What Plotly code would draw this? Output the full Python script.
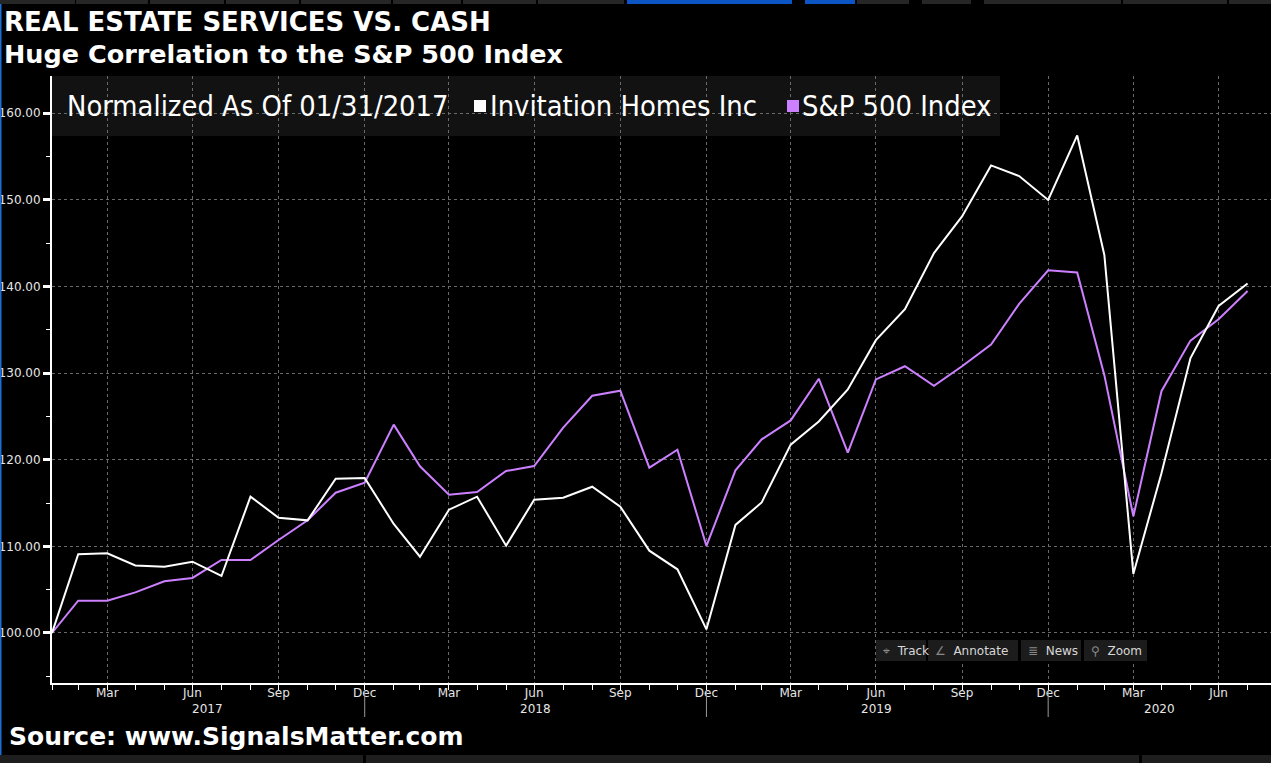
import plotly.graph_objects as go

# ---------------- data ----------------
dates = [
    "2017-01-31", "2017-02-28", "2017-03-31", "2017-04-30", "2017-05-31", "2017-06-30",
    "2017-07-31", "2017-08-31", "2017-09-30", "2017-10-31", "2017-11-30", "2017-12-31",
    "2018-01-31", "2018-02-28", "2018-03-31", "2018-04-30", "2018-05-31", "2018-06-30",
    "2018-07-31", "2018-08-31", "2018-09-30", "2018-10-31", "2018-11-30", "2018-12-31",
    "2019-01-31", "2019-02-28", "2019-03-31", "2019-04-30", "2019-05-31", "2019-06-30",
    "2019-07-31", "2019-08-31", "2019-09-30", "2019-10-31", "2019-11-30", "2019-12-31",
    "2020-01-31", "2020-02-29", "2020-03-31", "2020-04-30", "2020-05-31", "2020-06-30",
    "2020-07-31",
]
invitation_homes = [
    100.00, 109.08, 109.19, 107.80, 107.65, 108.23, 106.58, 115.73, 113.30, 113.00, 117.80, 117.88,
    112.58, 108.80, 114.23, 115.73, 110.08, 115.38, 115.61, 116.88, 114.58, 109.50, 107.35, 100.42,
    112.47, 115.06, 121.73, 124.40, 128.11, 133.79, 137.37, 143.83, 148.07, 153.95, 152.72, 149.96,
    157.41, 143.62, 106.83, 118.44, 131.73, 137.74, 140.33,
]
sp500 = [
    100.00, 103.73, 103.73, 104.69, 105.96, 106.35, 108.42, 108.42, 110.73, 113.00, 116.19, 117.34,
    124.04, 119.23, 115.96, 116.27, 118.69, 119.27, 123.69, 127.38, 127.96, 119.08, 121.15, 110.04,
    118.77, 122.35, 124.53, 129.34, 120.82, 129.26, 130.78, 128.52, 130.78, 133.29, 137.98, 141.85,
    141.60, 129.75, 113.46, 127.90, 133.74, 136.21, 139.47,
]
quarter_ticks = [d for d in dates if d[5:7] in ("03", "06", "09", "12")]
quarter_text = [{"03": "Mar", "06": "Jun", "09": "Sep", "12": "Dec"}[d[5:7]] for d in quarter_ticks]
year_labels = ["2017", "2018", "2019", "2020"]
year_label_pos = ["2017-07-16", "2018-07-01", "2019-07-01", "2020-04-28"]
year_separators = ["2017-12-31", "2018-12-31", "2019-12-31"]
y_ticks = [100, 110, 120, 130, 140, 150, 160]

# ---------------- layout geometry (pixels) ----------------
W, H = 1271, 763
L, R, T, B = 52, 0, 76, 80
PW, PH = W - L - R, H - T - B


def px(x):
    return (x - L) / PW


def py(y):
    return (H - B - y) / PH


WHITE = "#ffffff"
PURPLE = "#cc80ff"
TXT = "#e6e6e6"
GRID = "#6a6a6a"
BOLD_FONT = "DejaVu Sans, sans-serif"
NARROW_FONT = "Liberation Sans Narrow, DejaVu Sans Condensed, Arial Narrow, sans-serif"
AX_FONT = "DejaVu Sans, sans-serif"

fig = go.Figure()
fig.add_trace(go.Scatter(x=dates, y=sp500, mode="lines", name="S&P 500 Index",
                         line=dict(color=PURPLE, width=2), showlegend=False))
fig.add_trace(go.Scatter(x=dates, y=invitation_homes, mode="lines", name="Invitation Homes Inc",
                         line=dict(color=WHITE, width=2), showlegend=False))

shapes = []
annotations = []

# legend box (drawn below grid)
shapes.append(dict(type="rect", xref="paper", yref="paper", x0=px(52), x1=px(1000),
                   y0=py(136), y1=py(76), fillcolor="#121212", line=dict(width=0), layer="below"))
annotations.append(dict(xref="paper", yref="paper", x=px(65), y=py(106), xanchor="left", yanchor="middle",
                        text="Normalized As Of 01/31/2017", showarrow=False,
                        font=dict(family=NARROW_FONT, size=28.8, color=WHITE)))
shapes.append(dict(type="rect", xref="paper", yref="paper", x0=px(474), x1=px(486),
                   y0=py(112), y1=py(100), fillcolor=WHITE, line=dict(width=0)))
annotations.append(dict(xref="paper", yref="paper", x=px(488), y=py(106), xanchor="left", yanchor="middle",
                        text="Invitation Homes Inc", showarrow=False,
                        font=dict(family=NARROW_FONT, size=28.8, color=WHITE)))
shapes.append(dict(type="rect", xref="paper", yref="paper", x0=px(787), x1=px(799),
                   y0=py(112), y1=py(100), fillcolor=PURPLE, line=dict(width=0)))
annotations.append(dict(xref="paper", yref="paper", x=px(800), y=py(106), xanchor="left", yanchor="middle",
                        text="S&P 500 Index", showarrow=False,
                        font=dict(family=NARROW_FONT, size=28.8, color=WHITE)))

# titles and source
annotations.append(dict(xref="paper", yref="paper", x=px(2), y=py(22), xanchor="left", yanchor="middle",
                        text="<b>REAL ESTATE SERVICES VS. CASH</b>", showarrow=False,
                        font=dict(family=BOLD_FONT, size=26, color=WHITE)))
annotations.append(dict(xref="paper", yref="paper", x=px(2), y=py(54), xanchor="left", yanchor="middle",
                        text="<b>Huge Correlation to the S&P 500 Index</b>", showarrow=False,
                        font=dict(family=BOLD_FONT, size=25.5, color=WHITE)))
annotations.append(dict(xref="paper", yref="paper", x=px(7), y=py(736), xanchor="left", yanchor="middle",
                        text="<b>Source: www.SignalsMatter.com</b>", showarrow=False,
                        font=dict(family=BOLD_FONT, size=25, color=WHITE)))

# year labels and separators
for lab, pos in zip(year_labels, year_label_pos):
    annotations.append(dict(xref="x", yref="paper", x=pos, y=py(709), xanchor="center", yanchor="middle",
                            text=lab, showarrow=False, font=dict(family=AX_FONT, size=12, color=TXT)))
for d in year_separators:
    shapes.append(dict(type="line", xref="x", yref="paper", x0=d, x1=d, y0=py(691), y1=py(717),
                       line=dict(color="#9a9a9a", width=1)))

# toolbar buttons
buttons = [("⌖", "Track", 876, 926), ("∠", "Annotate", 928, 1018),
           ("≣", "News", 1021, 1081), ("⚲", "Zoom", 1084, 1147)]
for icon, label, x0, x1 in buttons:
    shapes.append(dict(type="rect", xref="paper", yref="paper", x0=px(x0), x1=px(x1),
                       y0=py(661), y1=py(640), fillcolor="#1c1c1c", line=dict(width=0)))
    annotations.append(dict(xref="paper", yref="paper", x=px(x0 + 5), y=py(650.5), xanchor="left",
                            yanchor="middle", showarrow=False,
                            text=f"<span style='color:#8a8a8a'>{icon}</span>  {label}",
                            font=dict(family=AX_FONT, size=12, color="#d8d8d8")))

# top chrome strip
gray_segs = [(0, 75), (76, 148), (150, 224), (226, 299), (301, 391), (393, 461), (463, 536),
             (538, 624), (857, 909), (922, 971), (984, 1121), (1123, 1227), (1229, 1271)]
blue_segs = [(627, 792), (805, 855)]
for a, b in gray_segs:
    shapes.append(dict(type="rect", xref="paper", yref="paper", x0=px(a), x1=px(b),
                       y0=py(4), y1=py(0), fillcolor="#262626", line=dict(width=0)))
for a, b in blue_segs:
    shapes.append(dict(type="rect", xref="paper", yref="paper", x0=px(a), x1=px(b),
                       y0=py(4), y1=py(0), fillcolor="#0b56c4", line=dict(width=0)))
# bottom chrome strip
for a, b in [(0, 363), (366, 1139), (1142, 1271)]:
    shapes.append(dict(type="rect", xref="paper", yref="paper", x0=px(a), x1=px(b),
                       y0=py(763), y1=py(755), fillcolor="#1e1e1e", line=dict(width=0)))
# left blue edge
shapes.append(dict(type="rect", xref="paper", yref="paper", x0=px(0), x1=px(1.5),
                   y0=py(755), y1=py(4), fillcolor="#1a6fd8", line=dict(width=0)))

fig.update_layout(
    width=W, height=H,
    margin=dict(l=L, r=R, t=T, b=B, pad=0),
    paper_bgcolor="#000000", plot_bgcolor="#000000",
    showlegend=False,
    shapes=shapes, annotations=annotations,
    xaxis=dict(
        type="date", range=["2017-01-31", "2020-08-25"],
        tickmode="array", tickvals=quarter_ticks, ticktext=quarter_text,
        showgrid=True, gridcolor=GRID, griddash="3px,3px", gridwidth=1,
        showline=True, linecolor=WHITE, linewidth=2,
        ticks="outside", ticklen=5, tickcolor=WHITE, tickwidth=1,
        ticklabelstandoff=-7,
        minor=dict(tickmode="array", tickvals=dates, ticks="outside", ticklen=5,
                   tickcolor=WHITE, tickwidth=1, showgrid=False),
        tickfont=dict(family=AX_FONT, size=12, color=TXT),
        zeroline=False, fixedrange=True,
    ),
    yaxis=dict(
        range=[94.23, 164.27],
        tickmode="array", tickvals=y_ticks, ticktext=[f"{v:.2f}" for v in y_ticks],
        showgrid=True, gridcolor=GRID, griddash="3px,3px", gridwidth=1,
        showline=True, linecolor=WHITE, linewidth=2,
        ticks="outside", ticklen=7, tickwidth=3, tickcolor=WHITE,
        minor=dict(dtick=5, tick0=95, ticks="outside", ticklen=4, tickcolor=WHITE,
                   tickwidth=1, showgrid=False),
        tickfont=dict(family=AX_FONT, size=12, color=TXT),
        zeroline=False, fixedrange=True,
    ),
)

fig.write_html("out.html", config={"displayModeBar": False},
               post_script="document.body.style.margin='0';document.body.style.overflow='hidden';")
